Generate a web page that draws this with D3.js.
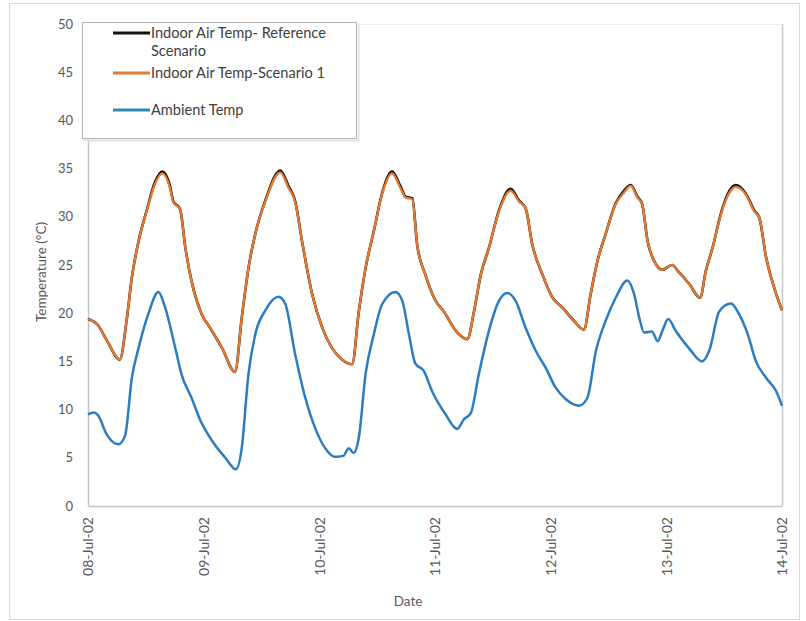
<!DOCTYPE html>
<html><head><meta charset="utf-8">
<script src="https://cdn.jsdelivr.net/npm/d3@7"></script>
<style>
html,body{margin:0;padding:0;background:#fff;}
svg text{font-family:Lato,"Open Sans",sans-serif;}
</style>
</head><body>
<svg id="chart" width="806" height="621"></svg>
<script>
// ---- data ----
const startDate = new Date(2002, 6, 8);
const tickLabels = ["08-Jul-02","09-Jul-02","10-Jul-02","11-Jul-02","12-Jul-02","13-Jul-02","14-Jul-02"];
const yTicks = [0,5,10,15,20,25,30,35,40,45,50];
const seriesNames = ["Indoor Air Temp- Reference Scenario","Indoor Air Temp-Scenario 1","Ambient Temp"];

const indoorHours = [0,2,4,6.6,8,9.1,10.5,12.2,13.9,15.4,17,17.7,19.1,20.2,21.5,23.6,25.3,27.8,30.5,31.9,33.3,34.7,36.8,39.9,41.6,43,44.4,46.5,48.6,50.6,52.7,54.8,56.2,57.6,59.3,61,63.1,64.8,65.9,67.3,68.3,70,72.1,73.8,76.3,78.7,80.1,81.5,83.2,85.3,87.7,89.4,90.8,92.2,94.3,96.4,98.4,100.5,102.9,104.3,105.7,107.4,109.5,111.2,112.6,114,115,116.1,117.5,119.2,121.2,122.7,124.8,127,128.2,129.6,131.3,133.1,134.4,136.5,138.2,139.3,140.7,142.4,144];
const indoorScenario1 = [19.4,18.8,17.1,15.2,19.2,23.7,27.5,30.6,33.4,34.5,33.0,31.5,30.8,26.8,23.3,19.9,18.5,16.4,13.9,19.5,24.7,28.2,31.6,34.6,33.0,31.5,27.5,22.0,18.5,16.4,15.2,14.7,20.2,24.7,28.5,32.3,34.5,33.0,32.0,31.8,27.1,24.0,21.3,20.2,18.2,17.3,20.2,24.0,26.8,30.6,32.7,31.6,30.9,27.1,24.0,21.6,20.6,19.4,18.3,22.0,25.4,28.2,31.3,32.5,33.2,32.0,31.3,27.5,25.4,24.5,25.0,24.2,23.0,21.6,24.4,26.8,30.2,32.5,33.1,32.3,30.6,29.9,25.8,22.6,20.3];
const indoorReference = [19.4,18.8,17.1,15.2,19.2,23.7,27.5,30.7,33.6,34.7,33.2,31.6,30.8,26.8,23.3,19.9,18.5,16.4,13.9,19.5,24.7,28.2,31.7,34.8,33.2,31.6,27.5,22.0,18.5,16.4,15.2,14.7,20.2,24.7,28.5,32.4,34.7,33.2,32.1,31.9,27.1,24.0,21.3,20.2,18.2,17.3,20.2,24.0,26.8,30.7,32.9,31.7,30.9,27.1,24.0,21.6,20.6,19.4,18.3,22.0,25.4,28.2,31.4,32.7,33.3,32.1,31.3,27.5,25.4,24.5,25.0,24.2,23.0,21.6,24.4,26.8,30.3,32.7,33.3,32.4,30.7,29.9,25.8,22.6,20.3];

const ambientHours = [0,1.2,2.1,3.9,6.3,7.7,9.1,10.5,12.5,14.6,16,18.1,19.5,21.5,23.3,25.7,28.5,30.7,31.9,33.3,34.7,36.8,39.5,40.9,43,45.1,47.2,49.2,51.3,53,54.1,55.1,56.2,57.6,59.3,61,63.8,65.2,66.6,67.9,69.7,71.4,74.2,76.6,78,79.4,81.1,83.2,85.3,87,88.7,90.8,92.9,95,97,99.1,101.9,103.6,105.4,107.4,109.5,111.9,113.3,114.4,115.4,117,118.2,119.2,120.4,121.9,124.8,127.4,128.9,131,133.4,135.1,136.9,138.6,140.7,142.8,144];
const ambientTemp = [9.5,9.7,9.4,7.4,6.4,7.3,13.3,16.4,19.9,22.2,20.6,16.4,13.5,11.2,8.9,6.8,5.0,3.8,6.0,13.7,17.8,20.3,21.7,21.0,15.7,11.2,8.0,6.0,5.1,5.2,6.0,5.5,7.1,13.7,17.8,20.9,22.2,21.3,17.8,14.8,14.0,11.9,9.5,8.0,9.0,9.6,13.7,18.2,21.3,22.1,21.3,18.5,16.1,14.3,12.3,11.1,10.4,11.2,16.1,19.2,21.6,23.4,22.0,19.5,18.0,18.1,17.1,18.2,19.4,18.2,16.3,15.0,16.1,20.2,21.0,19.9,17.8,15.0,13.3,11.9,10.4];

// ---- layout ----
const svg = d3.select("#chart");
const m = {left: 88, right: 782, top: 24, bottom: 506};
const hourToDate = h => new Date(startDate.getTime() + h * 3600 * 1000);
const x = d3.scaleTime().domain([startDate, hourToDate(144)]).range([m.left, m.right]);
const y = d3.scaleLinear().domain([0, 50]).range([m.bottom, m.top]);

// outer chart border
svg.append("rect").attr("x", 9.5).attr("y", 3.5).attr("width", 790).attr("height", 616)
  .attr("fill", "#fff").attr("stroke", "#d9d9d9").attr("stroke-width", 1);

// plot area frame
svg.append("line").attr("x1", m.left).attr("x2", m.right).attr("y1", m.top + 0.5).attr("y2", m.top + 0.5)
  .attr("stroke", "#eeeeee");
svg.append("line").attr("x1", m.right + 0.5).attr("x2", m.right + 0.5).attr("y1", m.top).attr("y2", m.bottom)
  .attr("stroke", "#c8c8c8").attr("stroke-width", 1.5);

// axes
const tickDates = tickLabels.map((_, i) => hourToDate(i * 24));
const xAxis = d3.axisBottom(x).tickValues(tickDates).tickSize(0).tickFormat((d, i) => tickLabels[i]);
const gx = svg.append("g").attr("transform", `translate(0,${m.bottom})`).call(xAxis);
gx.select(".domain").attr("stroke", "#c4c4c4").attr("stroke-width", 1.5);
gx.selectAll("text").attr("fill", "#595959").style("font-size", "14px")
  .attr("transform", "rotate(-90)").attr("text-anchor", "end")
  .attr("x", -11).attr("y", 0).attr("dy", "0.35em");

const yAxis = d3.axisLeft(y).tickValues(yTicks).tickSize(0).tickPadding(15);
const gy = svg.append("g").attr("transform", `translate(${m.left},0)`).call(yAxis);
gy.select(".domain").attr("stroke", "#c4c4c4").attr("stroke-width", 1.5);
gy.selectAll("text").attr("fill", "#595959").style("font-size", "13px");

// axis titles
svg.append("text").attr("transform", `translate(46,272) rotate(-90)`).attr("text-anchor", "middle")
  .attr("fill", "#595959").style("font-size", "13.5px").text("Temperature (°C)");
svg.append("text").attr("x", 408).attr("y", 606).attr("text-anchor", "middle")
  .attr("fill", "#595959").style("font-size", "13.5px").text("Date");

// lines
const line = (hours) => d3.line().x((d, i) => x(hourToDate(hours[i]))).y(d => y(d)).curve(d3.curveMonotoneX);
svg.append("path").datum(ambientTemp).attr("d", line(ambientHours))
  .attr("fill", "none").attr("stroke", "#2b7dbf").attr("stroke-width", 2.5).attr("stroke-linejoin", "round");
svg.append("path").datum(indoorReference).attr("d", line(indoorHours))
  .attr("fill", "none").attr("stroke", "#111").attr("stroke-width", 2.6).attr("stroke-linejoin", "round");
svg.append("path").datum(indoorScenario1).attr("d", line(indoorHours))
  .attr("fill", "none").attr("stroke", "#e67a32").attr("stroke-width", 2.3).attr("stroke-linejoin", "round");

// legend
const lg = svg.append("g");
lg.append("rect").attr("x", 84.5).attr("y", 24.5).attr("width", 274).attr("height", 116)
  .attr("fill", "none").attr("stroke", "#e3e3e3").attr("stroke-width", 2);
lg.append("rect").attr("x", 82.5).attr("y", 22.5).attr("width", 274).attr("height", 116)
  .attr("fill", "#fff").attr("stroke", "#b5b5b5").attr("stroke-width", 1);
const legendItems = [
  {name: seriesNames[0], color: "#111", ly: 33, lines: ["Indoor Air Temp- Reference", "Scenario"]},
  {name: seriesNames[1], color: "#e67a32", ly: 73, lines: ["Indoor Air Temp-Scenario 1"]},
  {name: seriesNames[2], color: "#3189b0", ly: 110, lines: ["Ambient Temp"]}
];
legendItems.forEach(it => {
  lg.append("line").attr("x1", 113).attr("x2", 150).attr("y1", it.ly).attr("y2", it.ly)
    .attr("stroke", it.color).attr("stroke-width", 3);
  it.lines.forEach((t, j) => {
    lg.append("text").attr("x", 151).attr("y", it.ly + 5 + j * 18).attr("fill", "#404040")
      .style("font-size", "14.6px").text(t);
  });
});
</script>
</body></html>
